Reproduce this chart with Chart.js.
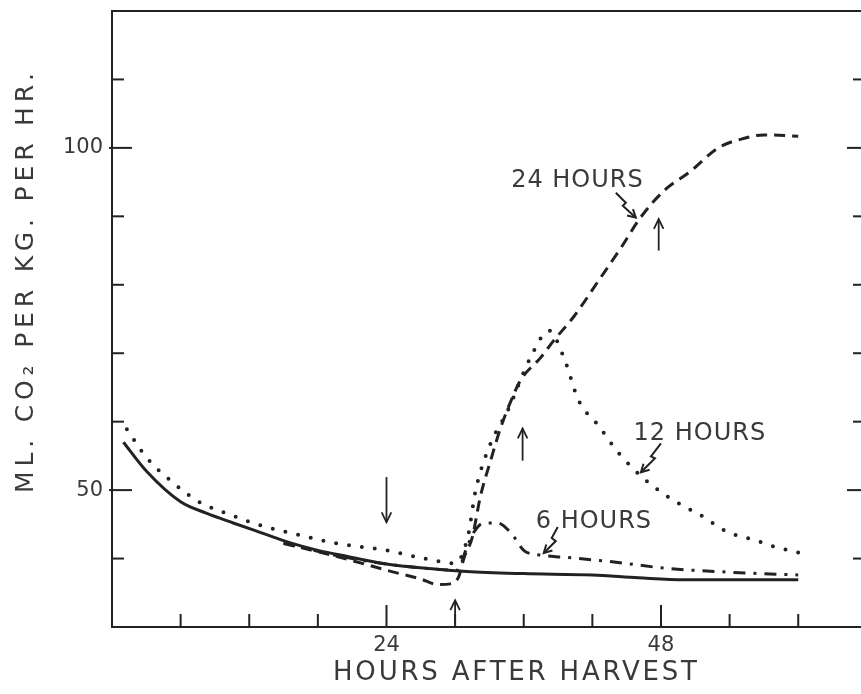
<!DOCTYPE html>
<html><head><meta charset="utf-8">
<script src="https://cdn.jsdelivr.net/npm/chart.js@4.4.0/dist/chart.umd.min.js"></script>
<style>
html,body{margin:0;padding:0;background:#fff;overflow:hidden;width:861px;height:694px}
#wrap{position:absolute;left:0;top:0;width:880px;height:694px}
</style></head>
<body><div id="wrap"><canvas id="c" width="880" height="694"></canvas></div>
<script>
// ---- data (hours after harvest, ml CO2 per kg per hr) ----
const controlHours = [1, 3, 6, 8.3, 10.6, 13, 15.6, 18, 20.6, 24, 28, 31, 36, 42, 46, 50, 55, 60];
const controlRate  = [57, 52.8, 48.3, 46.6, 45.2, 43.8, 42.3, 41.2, 40.3, 39.2, 38.5, 38.1, 37.8, 37.6, 37.2, 36.9, 36.9, 36.9];

const h24Hours = [15, 18, 21, 24, 27, 28.5, 29.6, 30.3, 30.8, 31.5, 32.2, 33.1, 34, 34.9, 35.7, 37.5, 38.6, 40.4, 42.5, 44.5, 46.2, 48.3, 50.6, 53, 55.3, 57, 60];
const h24Rate  = [42.2, 41, 39.7, 38.3, 37.0, 36.2, 36.3, 37.3, 40.2, 43.1, 49, 54.3, 59.2, 63.1, 66, 69.4, 71.8, 75.4, 80.5, 85.4, 89.8, 93.8, 96.6, 100, 101.4, 101.9, 101.7];

const h12Hours = [1.3, 3, 5.4, 7.7, 10, 13.5, 16.5, 19.7, 24, 27.6, 30, 31.1, 31.8, 33.1, 34.6, 36.6, 38.2, 39.5, 40.8, 42.5, 44.3, 46.7, 49.1, 51.5, 53.8, 56, 58, 60];
const h12Rate  = [58.9, 54.8, 51, 48.2, 46.6, 44.6, 43.4, 42.2, 41.2, 39.9, 39.3, 43.1, 50, 56.8, 61.6, 69.4, 73.3, 69.4, 63.1, 59.5, 55.4, 51.4, 48.5, 46.3, 43.9, 42.8, 41.7, 40.9];

const h6Hours = [15, 20, 24, 28, 30.2, 31, 31.7, 32.5, 33.7, 34.9, 36, 37.5, 39.5, 43.9, 48.3, 54.1, 60];
const h6Rate  = [42.3, 40.3, 39.2, 38.5, 38.3, 41.5, 44.0, 45.2, 45.2, 43.7, 41.2, 40.5, 40.2, 39.5, 38.6, 38.0, 37.6];

// ---- ticks ----
const xTickValues = [6, 12, 18, 24, 30, 36, 42, 48, 54, 60];
const xTickLabels = {24: '24', 48: '48'};
const yTickValues = [40, 50, 60, 70, 80, 90, 100, 110];
const yTickLabels = {50: '50', 100: '100'};

// ---- annotations ----
const seriesLabels = [
  {text: '24 HOURS', x: 34.9, y: 94.3},
  {text: '12 HOURS', x: 45.6, y: 57.3},
  {text: '6 HOURS',  x: 37.05, y: 44.4}
];
// zigzag pointer arrows: tip in data coords, shape as pixel offsets from tip
const pointerArrows = [
  {x: 45.8, y: 89.8, shape: [[-20,-25],[-10,-15],[-13,-12],[0,0]]},
  {x: 46.25, y: 52.6, shape: [[20,-29],[10,-16],[14,-14],[0,0]]},
  {x: 37.75, y: 40.8, shape: [[14,-26],[8,-15],[12,-12],[0,0]]}
];
// straight vertical arrows: x, tail y, head y
const markerArrows = [
  {x: 24, tail: 51.9, head: 45.3},
  {x: 30, tail: 30.6, head: 33.9},
  {x: 35.9, tail: 54.3, head: 59.0},
  {x: 47.8, tail: 85.0, head: 89.6}
];

const INK = '#222';
const TXT = '#3a3a3a';
const FONT = '"DejaVu Sans", sans-serif';
const pts = (xs, ys) => xs.map((x, i) => ({x, y: ys[i]}));

function arrowHead(ctx, tx, ty, fx, fy, len, ang) {
  const a = Math.atan2(ty - fy, tx - fx);
  ctx.beginPath();
  ctx.moveTo(tx - len * Math.cos(a - ang), ty - len * Math.sin(a - ang));
  ctx.lineTo(tx, ty);
  ctx.lineTo(tx - len * Math.cos(a + ang), ty - len * Math.sin(a + ang));
  ctx.stroke();
}

function spacedText(ctx, text, x, y, targetW) {
  ctx.letterSpacing = '0px';
  const w = ctx.measureText(text).width;
  const ls = Math.max(0, (targetW - w) / (text.length - 1));
  ctx.letterSpacing = ls + 'px';
  ctx.fillText(text, x, y);
  ctx.letterSpacing = '0px';
}

const decor = {
  id: 'decor',
  afterDatasetsDraw(chart) {
    const {ctx, chartArea: a, scales: {x, y}} = chart;
    ctx.save();
    ctx.strokeStyle = INK;
    ctx.lineCap = 'butt';
    ctx.setLineDash([]);
    // frame
    ctx.lineWidth = 2;
    ctx.beginPath();
    ctx.moveTo(a.right, a.top); ctx.lineTo(a.left, a.top);
    ctx.lineTo(a.left, a.bottom); ctx.lineTo(a.right, a.bottom); ctx.lineTo(a.right, a.top);
    ctx.stroke();
    // inward ticks
    xTickValues.forEach(v => {
      const px = x.getPixelForValue(v);
      const len = xTickLabels[v] ? 22 : 13;
      ctx.beginPath(); ctx.moveTo(px, a.bottom); ctx.lineTo(px, a.bottom - len); ctx.stroke();
    });
    yTickValues.forEach(v => {
      const py = y.getPixelForValue(v);
      const lab = yTickLabels[v];
      ctx.beginPath(); ctx.moveTo(a.left - (lab ? 3 : 0), py); ctx.lineTo(a.left + (lab ? 20 : 12), py); ctx.stroke();
      ctx.beginPath(); ctx.moveTo(a.right, py); ctx.lineTo(a.right - (lab ? 29 : 23), py); ctx.stroke();
    });
    // vertical arrows
    ctx.lineWidth = 1.8;
    markerArrows.forEach(m => {
      const px = x.getPixelForValue(m.x);
      const t = y.getPixelForValue(m.tail), h = y.getPixelForValue(m.head);
      ctx.beginPath(); ctx.moveTo(px, t); ctx.lineTo(px, h); ctx.stroke();
      arrowHead(ctx, px, h, px, t, 11, 0.45);
    });
    // pointer arrows
    ctx.lineWidth = 2;
    ctx.lineJoin = 'miter';
    pointerArrows.forEach(p => {
      const tx = x.getPixelForValue(p.x), ty = y.getPixelForValue(p.y);
      ctx.beginPath();
      p.shape.forEach(([dx, dy], i) => { if (i === 0) ctx.moveTo(tx + dx, ty + dy); else ctx.lineTo(tx + dx, ty + dy); });
      ctx.stroke();
      const prev = p.shape[p.shape.length - 2];
      arrowHead(ctx, tx, ty, tx + prev[0], ty + prev[1], 9, 0.5);
    });
    // series labels
    ctx.fillStyle = TXT;
    ctx.font = '24px ' + FONT;
    ctx.textBaseline = 'alphabetic';
    ctx.textAlign = 'left';
    ctx.letterSpacing = '1px';
    seriesLabels.forEach(l => ctx.fillText(l.text, x.getPixelForValue(l.x), y.getPixelForValue(l.y)));
    ctx.letterSpacing = '0px';
    // axis titles
    ctx.font = '26px ' + FONT;
    spacedText(ctx, 'HOURS AFTER HARVEST', 333, a.bottom + 53, 364);
    ctx.save();
    ctx.translate(33, 493);
    ctx.rotate(-Math.PI / 2);
    ctx.font = '25px ' + FONT;
    spacedText(ctx, 'ML. CO\u2082 PER KG. PER HR.', 0, 0, 420);
    ctx.restore();
    ctx.restore();
  }
};

new Chart(document.getElementById('c'), {
  type: 'line',
  data: {
    datasets: [
      {label: 'Control', data: pts(controlHours, controlRate), borderColor: INK, borderWidth: 3},
      {label: '24 hours', data: pts(h24Hours, h24Rate), borderColor: INK, borderWidth: 3, borderDash: [11, 7]},
      {label: '12 hours', data: pts(h12Hours, h12Rate), borderColor: INK, borderWidth: 4, borderDash: [0, 13], borderCapStyle: 'round'},
      {label: '6 hours', data: pts(h6Hours, h6Rate), borderColor: INK, borderWidth: 3, borderDash: [12, 8, 3, 8]}
    ]
  },
  options: {
    responsive: false,
    animation: false,
    events: [],
    elements: {
      point: {radius: 0},
      line: {cubicInterpolationMode: 'monotone', fill: false}
    },
    layout: {padding: {top: 11, right: 4, left: 0, bottom: 0}},
    plugins: {legend: {display: false}, tooltip: {enabled: false}},
    scales: {
      x: {
        type: 'linear', min: 0, max: 66.8,
        afterFit(s) { s.height = 67; s.paddingLeft = 0; s.paddingRight = 0; },
        afterBuildTicks(s) { s.ticks = xTickValues.map(v => ({value: v})); },
        ticks: {callback: v => xTickLabels[v] || '', font: {family: FONT, size: 21}, color: TXT, padding: 6, maxRotation: 0, autoSkip: false},
        grid: {display: false, drawTicks: false},
        border: {display: false}
      },
      y: {
        type: 'linear', min: 30, max: 120,
        afterFit(s) { s.width = 112; s.paddingTop = 0; s.paddingBottom = 0; },
        afterBuildTicks(s) { s.ticks = yTickValues.map(v => ({value: v})); },
        ticks: {callback: v => yTickLabels[v] || '', font: {family: FONT, size: 21}, color: TXT, padding: 9, autoSkip: false},
        grid: {display: false, drawTicks: false},
        border: {display: false}
      }
    }
  },
  plugins: [decor]
});
</script>
</body></html>
